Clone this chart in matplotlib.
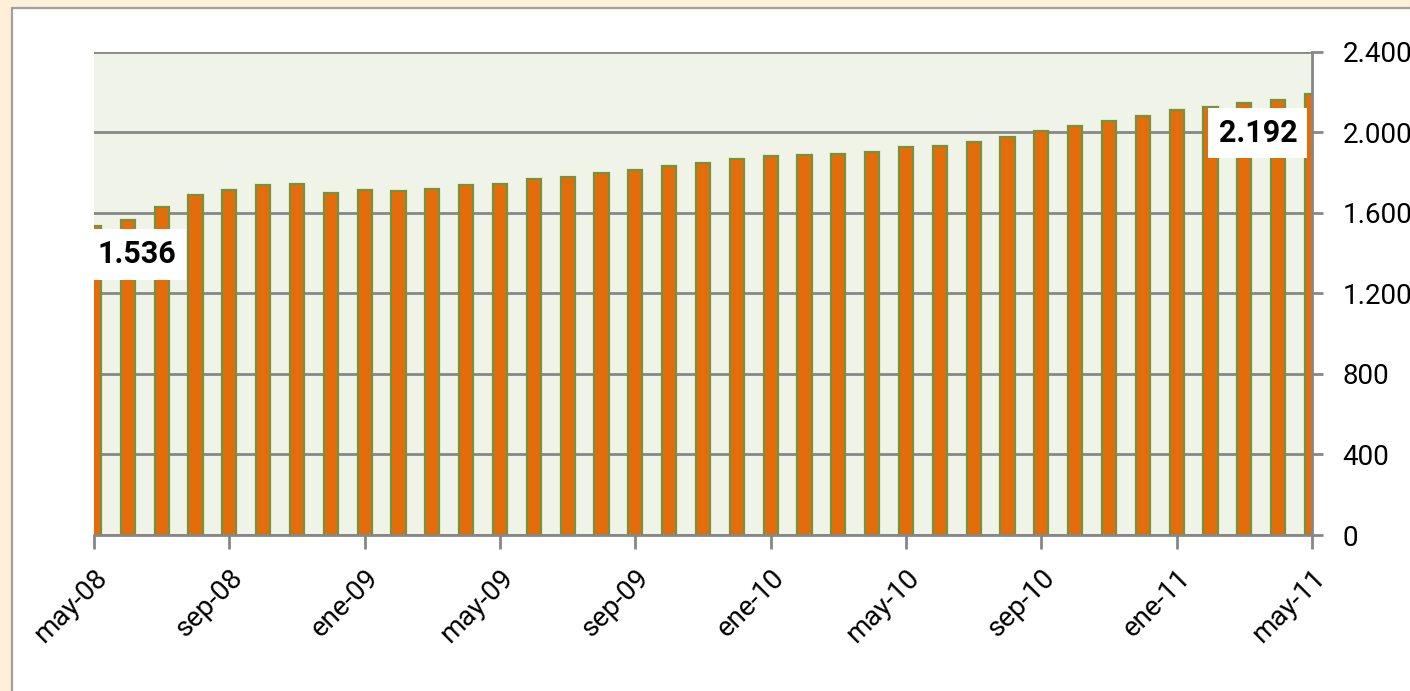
import matplotlib
matplotlib.use("Agg")
import matplotlib.pyplot as plt
from matplotlib.patches import Rectangle
from matplotlib import font_manager

months = ["may-08", "jun-08", "jul-08", "ago-08", "sep-08", "oct-08", "nov-08", "dic-08",
          "ene-09", "feb-09", "mar-09", "abr-09", "may-09", "jun-09", "jul-09", "ago-09",
          "sep-09", "oct-09", "nov-09", "dic-09", "ene-10", "feb-10", "mar-10", "abr-10",
          "may-10", "jun-10", "jul-10", "ago-10", "sep-10", "oct-10", "nov-10", "dic-10",
          "ene-11", "feb-11", "mar-11", "abr-11", "may-11"]
values = [1536, 1564, 1630, 1688, 1713, 1736, 1743, 1697,
          1711, 1708, 1719, 1738, 1743, 1768, 1779, 1798,
          1814, 1831, 1847, 1868, 1883, 1887, 1890, 1903,
          1926, 1933, 1951, 1978, 2006, 2032, 2056, 2082,
          2112, 2124, 2143, 2158, 2192]
yticks = [0, 400, 800, 1200, 1600, 2000, 2400]
ytick_labels = ["0", "400", "800", "1.200", "1.600", "2.000", "2.400"]

names = {f.name for f in font_manager.fontManager.ttflist}
FONT = [n for n in ["Liberation Sans Narrow", "Roboto", "DejaVu Sans"] if n in names]
plt.rcParams["font.family"] = FONT

W, H = 1410, 691
fig = plt.figure(figsize=(W / 100, H / 100), dpi=100)
fig.patch.set_facecolor("#FDEFD8")

# white inner panel
panel = Rectangle((12 / W, -0.1), 1.2, (H - 7.5) / H + 0.1,
                  transform=fig.transFigure, facecolor="white",
                  edgecolor="#A0A0A0", linewidth=1.6, zorder=-10)
fig.add_artist(panel)

left, right, top, bottom = 94, 1312, 51.7, 535
ax = fig.add_axes([left / W, (H - bottom) / H, (right - left) / W, (bottom - top) / H])
ax.set_facecolor("#EFF3E8")

x = list(range(len(values)))
ax.bar(x, values, width=0.42, color="#E46C0A", edgecolor="#76923C", linewidth=1.6, zorder=3)

ax.set_xlim(0, len(values) - 1)
ax.set_ylim(0, 2400)

ax.yaxis.tick_right()
ax.set_yticks(yticks)
ax.set_yticklabels(ytick_labels, fontsize=20)
ax.grid(axis="y", color="#878787", linewidth=2, zorder=1)
ax.tick_params(axis="y", length=8, width=2, color="#878787", pad=14, labelcolor="black")

xt = list(range(0, len(values), 4))
ax.set_xticks(xt)
ax.set_xticklabels([months[i] for i in xt], rotation=45, ha="right",
                   rotation_mode="anchor", fontsize=20)
ax.tick_params(axis="x", length=10, width=2, color="#878787", pad=11)

for s in ["left", "top"]:
    ax.spines[s].set_visible(False)
for s in ["right", "bottom"]:
    ax.spines[s].set_color("#878787")
    ax.spines[s].set_linewidth(2)
    ax.spines[s].set_zorder(4)

def fmt(v):
    return f"{v:,}".replace(",", ".")

bbox = dict(boxstyle="square,pad=0.33", facecolor="white", edgecolor="none")
ax.text(1.27, values[0] - 143, fmt(values[0]), fontsize=22, fontweight="bold",
        ha="center", va="center", bbox=bbox, zorder=5)
ax.text(34.4, values[-1] - 196, fmt(values[-1]), fontsize=22, fontweight="bold",
        ha="center", va="center", bbox=bbox, zorder=5)

fig.savefig("out.png", dpi=100, facecolor=fig.get_facecolor())
